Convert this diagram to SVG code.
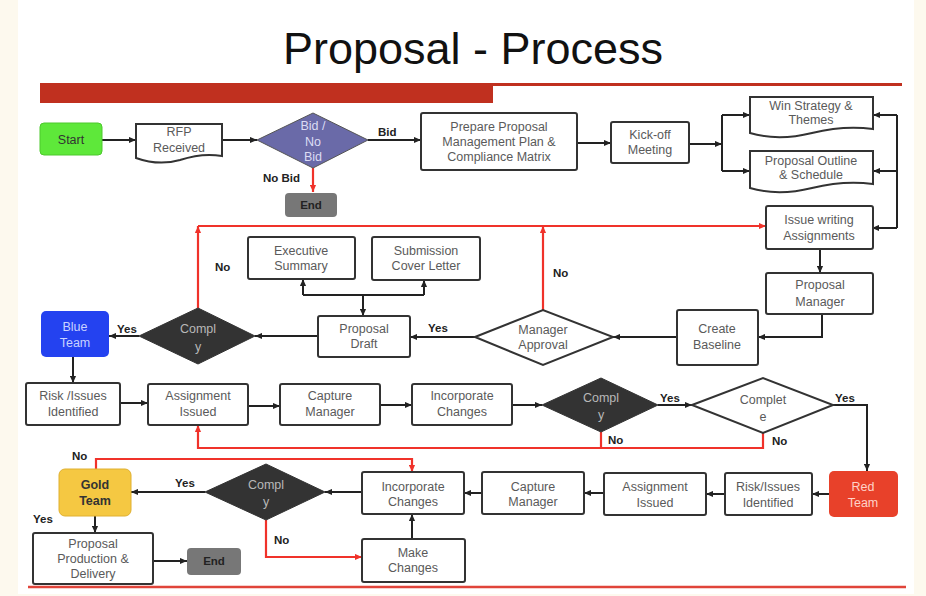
<svg xmlns="http://www.w3.org/2000/svg" width="926" height="596" viewBox="0 0 926 596">
<style>
.bx{fill:#fff;stroke:#333;stroke-width:2}
.t{font-family:"Liberation Sans",Arial,sans-serif;font-size:12.5px;fill:#5a5a5a;text-anchor:middle}
.lb{font-family:"Liberation Sans",Arial,sans-serif;font-size:11.5px;font-weight:bold;fill:#222}
.c{fill:none;stroke:#222;stroke-width:2}
.r{fill:none;stroke:#f0322a;stroke-width:2.2}
.dk{fill:#333;stroke:#333;stroke-width:1}
.dt{font-family:"Liberation Sans",Arial,sans-serif;font-size:12.5px;fill:#b8b8b8;text-anchor:middle}
</style>
<defs>
<marker id="a" viewBox="0 0 8 8" refX="8" refY="4" markerWidth="7" markerHeight="7" markerUnits="userSpaceOnUse" orient="auto"><path d="M0,0.5 L8,4 L0,7.5 z" fill="#222"/></marker>
<marker id="ar" viewBox="0 0 8 8" refX="8" refY="4" markerWidth="7" markerHeight="7" markerUnits="userSpaceOnUse" orient="auto"><path d="M0,0.5 L8,4 L0,7.5 z" fill="#f0322a"/></marker>
</defs>
<rect width="926" height="596" fill="#fdf9ee"/>
<rect x="18" y="0" width="896" height="594" fill="#fff"/>
<text x="473" y="64" font-family="'Liberation Sans',Arial,sans-serif" font-size="45" fill="#111" text-anchor="middle">Proposal - Process</text>
<rect x="40" y="83" width="862" height="3" fill="#c0301f"/>
<rect x="40" y="83" width="453" height="20" fill="#c0301f"/>
<line x1="28" y1="587" x2="906" y2="587" stroke="#e0443a" stroke-width="2.5"/>

<g id="connectors">
<path class="c" d="M102,140 H136" marker-end="url(#a)"/>
<path class="c" d="M223,140 H257" marker-end="url(#a)"/>
<path class="c" d="M368,140 H421" marker-end="url(#a)"/>
<path class="r" d="M313,168 V192" marker-end="url(#ar)"/>
<path class="c" d="M577,143 H611" marker-end="url(#a)"/>
<path class="c" d="M689,144 H722" marker-end="url(#a)"/>
<path class="c" d="M722,115 V171"/>
<path class="c" d="M722,115 H750" marker-end="url(#a)"/>
<path class="c" d="M722,171 H750" marker-end="url(#a)"/>
<path class="c" d="M897,115 V228"/>
<path class="c" d="M897,115 H873" marker-end="url(#a)"/>
<path class="c" d="M897,171 H873" marker-end="url(#a)"/>
<path class="c" d="M897,228 H872" marker-end="url(#a)"/>
<path class="c" d="M820,250 V273" marker-end="url(#a)"/>
<path class="c" d="M822,314 V337 H758" marker-end="url(#a)"/>
<path class="c" d="M677,337 H613" marker-end="url(#a)"/>
<path class="c" d="M475,337 H410" marker-end="url(#a)"/>
<path class="r" d="M543,310 V226" marker-end="url(#ar)"/>
<path class="r" d="M198,226 H766" marker-end="url(#ar)"/>
<path class="r" d="M198,308 V226" marker-end="url(#ar)"/>
<path class="c" d="M318,336 H255" marker-end="url(#a)"/>
<path class="c" d="M139,336 H109" marker-end="url(#a)"/>
<path class="c" d="M303,295 H424"/>
<path class="c" d="M303,295 V279" marker-end="url(#a)"/>
<path class="c" d="M424,295 V280" marker-end="url(#a)"/>
<path class="c" d="M363,295 V316" marker-end="url(#a)"/>
<path class="c" d="M73,357 V383" marker-end="url(#a)"/>
<path class="c" d="M120,403 H148" marker-end="url(#a)"/>
<path class="c" d="M248,406 H280" marker-end="url(#a)"/>
<path class="c" d="M380,405 H412" marker-end="url(#a)"/>
<path class="c" d="M512,405 H542" marker-end="url(#a)"/>
<path class="c" d="M658,405 H692" marker-end="url(#a)"/>
<path class="c" d="M833,405 H867 V471" marker-end="url(#a)"/>
<path class="r" d="M763,433 V448 H198 V425" marker-end="url(#ar)"/>
<path class="r" d="M601,432 V448"/>
<path class="c" d="M829,494 H812" marker-end="url(#a)"/>
<path class="c" d="M725,494 H706" marker-end="url(#a)"/>
<path class="c" d="M604,493 H584" marker-end="url(#a)"/>
<path class="c" d="M482,493 H464" marker-end="url(#a)"/>
<path class="c" d="M362,492 H325" marker-end="url(#a)"/>
<path class="c" d="M205,492 H131" marker-end="url(#a)"/>
<path class="r" d="M266,520 V557 H362" marker-end="url(#ar)"/>
<path class="c" d="M412,539 V514" marker-end="url(#a)"/>
<path class="r" d="M96,469 V459 H412 V472" marker-end="url(#ar)"/>
<path class="c" d="M95,516 V533" marker-end="url(#a)"/>
<path class="c" d="M153,561 H187" marker-end="url(#a)"/>
<text class="lb" x="378" y="136">Bid</text>
<text class="lb" x="263" y="182">No Bid</text>
<text class="lb" x="428" y="332">Yes</text>
<text class="lb" x="553" y="277">No</text>
<text class="lb" x="215" y="271">No</text>
<text class="lb" x="117" y="333">Yes</text>
<text class="lb" x="660" y="402">Yes</text>
<text class="lb" x="835" y="402">Yes</text>
<text class="lb" x="608" y="444">No</text>
<text class="lb" x="772" y="445">No</text>
<text class="lb" x="175" y="487">Yes</text>
<text class="lb" x="274" y="544">No</text>
<text class="lb" x="72" y="460">No</text>
<text class="lb" x="33" y="523">Yes</text>
</g>

<g id="start"><rect x="40" y="123" width="62" height="32" rx="4" fill="#5ee83a" stroke="#4cc92c" stroke-width="1"/><text class="t" x="71" y="144" fill="#333" style="fill:#333">Start</text></g>
<g id="rfp"><path class="bx" d="M136,124 H222 V156 C205,153 192,156 180,160 C166,164 150,163 136,158 Z"/><text class="t" x="179" y="136">RFP</text><text class="t" x="179" y="152">Received</text></g>
<g id="bid"><polygon points="257,140 313,113 368,140 313,168" fill="#6a6aa8" stroke="#555" stroke-width="1"/><text class="t" x="313" y="130" style="fill:#dcdcf4">Bid /</text><text class="t" x="313" y="146" style="fill:#dcdcf4">No</text><text class="t" x="313" y="161" style="fill:#dcdcf4">Bid</text></g>
<g id="end1"><rect x="285" y="193" width="52" height="24" rx="4" fill="#777"/><text class="lb" x="311" y="209" text-anchor="middle">End</text></g>
<g id="prepare"><rect class="bx" x="421" y="113" width="156" height="57" rx="2"/><text class="t" x="499" y="131">Prepare Proposal</text><text class="t" x="499" y="146">Management Plan &amp;</text><text class="t" x="499" y="161">Compliance Matrix</text></g>
<g id="kickoff"><rect class="bx" x="611" y="122" width="78" height="41" rx="2"/><text class="t" x="650" y="139">Kick-off</text><text class="t" x="650" y="154">Meeting</text></g>
<g id="win"><path class="bx" d="M750,97 H873 V129 C852,126 832,128 812,133 C792,138 770,139 750,133 Z"/><text class="t" x="811" y="110">Win Strategy &amp;</text><text class="t" x="811" y="124">Themes</text></g>
<g id="outline"><path class="bx" d="M750,151 H873 V184 C852,181 832,183 812,188 C792,193 770,194 750,188 Z"/><text class="t" x="811" y="165">Proposal Outline</text><text class="t" x="811" y="179">&amp; Schedule</text></g>
<g id="issue"><rect class="bx" x="766" y="206" width="107" height="43" rx="2"/><text class="t" x="819" y="224">Issue writing</text><text class="t" x="819" y="240">Assignments</text></g>
<g id="pm"><rect class="bx" x="766" y="273" width="107" height="41" rx="2"/><text class="t" x="820" y="289">Proposal</text><text class="t" x="820" y="306">Manager</text></g>
<g id="baseline"><rect class="bx" x="677" y="310" width="81" height="55" rx="2"/><text class="t" x="717" y="333">Create</text><text class="t" x="717" y="349">Baseline</text></g>
<g id="approval"><polygon points="475,337 543,310 613,337 543,365" fill="#fff" stroke="#333" stroke-width="2"/><text class="t" x="543" y="334">Manager</text><text class="t" x="543" y="349">Approval</text></g>
<g id="exec"><rect class="bx" x="248" y="237" width="107" height="42" rx="2"/><text class="t" x="301" y="255">Executive</text><text class="t" x="301" y="270">Summary</text></g>
<g id="cover"><rect class="bx" x="372" y="237" width="108" height="43" rx="2"/><text class="t" x="426" y="255">Submission</text><text class="t" x="426" y="270">Cover Letter</text></g>
<g id="draft"><rect class="bx" x="318" y="316" width="92" height="41" rx="2"/><text class="t" x="364" y="333">Proposal</text><text class="t" x="364" y="348">Draft</text></g>
<g id="comply1"><polygon class="dk" points="139,336 198,308 255,336 198,364"/><text class="dt" x="198" y="333">Compl</text><text class="dt" x="198" y="351">y</text></g>
<g id="blue"><rect x="41" y="311" width="68" height="46" rx="5" fill="#2442f0"/><text class="t" x="75" y="331" style="fill:#c9d2ff">Blue</text><text class="t" x="75" y="347" style="fill:#c9d2ff">Team</text></g>
<g id="risk1"><rect class="bx" x="26" y="383" width="94" height="42" rx="2"/><text class="t" x="73" y="400">Risk /Issues</text><text class="t" x="73" y="416">Identified</text></g>
<g id="assign1"><rect class="bx" x="148" y="384" width="100" height="41" rx="2"/><text class="t" x="198" y="400">Assignment</text><text class="t" x="198" y="416">Issued</text></g>
<g id="capture1"><rect class="bx" x="280" y="384" width="100" height="41" rx="2"/><text class="t" x="330" y="400">Capture</text><text class="t" x="330" y="416">Manager</text></g>
<g id="incorp1"><rect class="bx" x="412" y="384" width="100" height="41" rx="2"/><text class="t" x="462" y="400">Incorporate</text><text class="t" x="462" y="416">Changes</text></g>
<g id="comply2"><polygon class="dk" points="542,405 601,378 658,405 601,432"/><text class="dt" x="601" y="402">Compl</text><text class="dt" x="601" y="419">y</text></g>
<g id="complete"><polygon points="692,405 763,378 833,405 763,433" fill="#fff" stroke="#333" stroke-width="2"/><text class="t" x="763" y="404">Complet</text><text class="t" x="763" y="421">e</text></g>
<g id="red"><rect x="829" y="471" width="69" height="46" rx="5" fill="#e8412a"/><text class="t" x="863" y="491" style="fill:#ffd2c8">Red</text><text class="t" x="863" y="507" style="fill:#ffd2c8">Team</text></g>
<g id="risk2"><rect class="bx" x="725" y="473" width="87" height="42" rx="2"/><text class="t" x="768" y="491">Risk/Issues</text><text class="t" x="768" y="507">Identified</text></g>
<g id="assign2"><rect class="bx" x="604" y="473" width="102" height="42" rx="2"/><text class="t" x="655" y="491">Assignment</text><text class="t" x="655" y="507">Issued</text></g>
<g id="capture2"><rect class="bx" x="482" y="472" width="102" height="42" rx="2"/><text class="t" x="533" y="491">Capture</text><text class="t" x="533" y="506">Manager</text></g>
<g id="incorp2"><rect class="bx" x="362" y="472" width="102" height="42" rx="2"/><text class="t" x="413" y="491">Incorporate</text><text class="t" x="413" y="506">Changes</text></g>
<g id="make"><rect class="bx" x="362" y="539" width="103" height="43" rx="2"/><text class="t" x="413" y="557">Make</text><text class="t" x="413" y="572">Changes</text></g>
<g id="comply3"><polygon class="dk" points="205,492 266,464 325,492 266,520"/><text class="dt" x="266" y="489">Compl</text><text class="dt" x="266" y="506">y</text></g>
<g id="gold"><rect x="59" y="469" width="72" height="47" rx="6" fill="#f5c842" stroke="#e0b030" stroke-width="1"/><text class="t" x="95" y="489" style="fill:#333;font-weight:bold">Gold</text><text class="t" x="95" y="505" style="fill:#333;font-weight:bold">Team</text></g>
<g id="ppd"><rect class="bx" x="33" y="533" width="120" height="51" rx="2"/><text class="t" x="93" y="548">Proposal</text><text class="t" x="93" y="563">Production &amp;</text><text class="t" x="93" y="578">Delivery</text></g>
<g id="end2"><rect x="187" y="548" width="54" height="27" rx="4" fill="#777"/><text class="lb" x="214" y="565" text-anchor="middle">End</text></g>
</svg>
